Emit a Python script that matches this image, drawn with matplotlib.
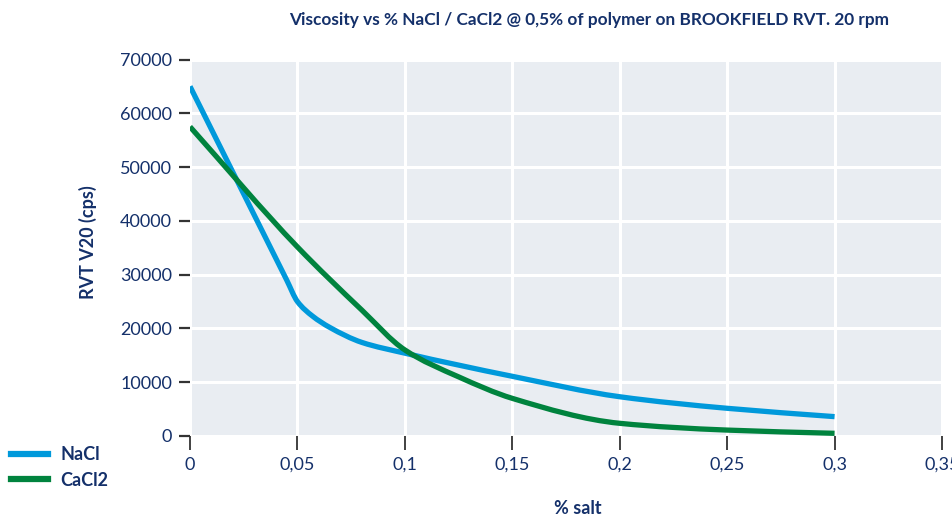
import numpy as np
import matplotlib
matplotlib.use("Agg")
import matplotlib.pyplot as plt
from matplotlib.path import Path
from matplotlib.patches import PathPatch
from matplotlib.lines import Line2D
from matplotlib.ticker import FuncFormatter

# ---- data ----
nacl_x = [0.0, 0.045, 0.05, 0.057, 0.065, 0.08, 0.1, 0.15, 0.2, 0.25, 0.3]
nacl_y = [65000, 29000, 25000, 22300, 20200, 17400, 15400, 11100, 7300, 5150, 3600]
cacl2_x = [0.0, 0.05, 0.08, 0.1, 0.125, 0.15, 0.2, 0.25, 0.3]
cacl2_y = [57500, 35150, 23400, 16000, 11000, 7000, 2360, 1100, 500]
series_names = ["NaCl", "CaCl2"]
x_ticks = [0, 0.05, 0.1, 0.15, 0.2, 0.25, 0.3, 0.35]
y_ticks = [0, 10000, 20000, 30000, 40000, 50000, 60000, 70000]

title = "Viscosity vs % NaCl / CaCl2 @ 0,5% of polymer on BROOKFIELD RVT. 20 rpm"
xlabel = "% salt"
ylabel = "RVT V20 (cps)"

NAVY = "#14306a"
BLUE = "#0099db"
GREEN = "#00833e"
BG = "#e9edf2"
FONT = ["Lato", "DejaVu Sans"]


def smooth_path(xs, ys):
    """Monotone cubic Bezier path through the data points (smoothed line)."""
    xs = np.asarray(xs, float)
    ys = np.asarray(ys, float)
    n = len(xs)
    h = np.diff(xs)
    d = np.diff(ys) / h
    m = np.zeros(n)
    m[0], m[-1] = d[0], d[-1]
    for i in range(1, n - 1):
        if d[i - 1] * d[i] <= 0:
            m[i] = 0.0
        else:
            w1 = 2 * h[i] + h[i - 1]
            w2 = h[i] + 2 * h[i - 1]
            m[i] = (w1 + w2) / (w1 / d[i - 1] + w2 / d[i])
    verts = [(xs[0], ys[0])]
    codes = [Path.MOVETO]
    for i in range(n - 1):
        hh = h[i]
        verts += [(xs[i] + hh / 3, ys[i] + m[i] * hh / 3),
                  (xs[i + 1] - hh / 3, ys[i + 1] - m[i + 1] * hh / 3),
                  (xs[i + 1], ys[i + 1])]
        codes += [Path.CURVE4] * 3
    return Path(verts, codes)


fig = plt.figure(figsize=(9.52, 5.17), dpi=100)
ax = fig.add_axes([190 / 952, 1 - 436 / 517, (942 - 190) / 952, (436 - 59.5) / 517])
ax.set_facecolor(BG)
ax.set_xlim(0, 0.35)
ax.set_ylim(0, 70000)

for s in ax.spines.values():
    s.set_visible(False)

ax.set_xticks(x_ticks)
ax.set_yticks(y_ticks)
ax.grid(True, color="white", linewidth=2.2)
ax.set_axisbelow(True)

ax.xaxis.set_major_formatter(FuncFormatter(lambda v, p: ("%g" % round(v, 2)).replace(".", ",")))
ax.yaxis.set_major_formatter(FuncFormatter(lambda v, p: "%d" % v))

ax.tick_params(axis="y", direction="out", length=8, width=1.6, color="#333333",
               labelsize=13, labelcolor=NAVY, pad=5)
ax.tick_params(axis="x", direction="out", length=10, width=1.3, color="#333333",
               labelsize=13, labelcolor=NAVY, pad=5)
for lab in ax.get_xticklabels() + ax.get_yticklabels():
    lab.set_family(FONT)

for xs, ys, col in [(nacl_x, nacl_y, BLUE), (cacl2_x, cacl2_y, GREEN)]:
    patch = PathPatch(smooth_path(xs, ys), facecolor="none", edgecolor=col,
                      linewidth=3.8, capstyle="butt", joinstyle="round", zorder=3)
    ax.add_patch(patch)

fig.text(589 / 952, 1 - 20 / 517, title, ha="center", va="center", fontsize=12.4,
         fontweight="bold", color=NAVY, family=FONT)
fig.text(578 / 952, 1 - 508 / 517, xlabel, ha="center", va="center", fontsize=13,
         fontweight="bold", color=NAVY, family=FONT)
fig.text(88 / 952, 1 - 242 / 517, ylabel, ha="center", va="center", fontsize=13,
         fontweight="bold", color=NAVY, family=FONT, rotation=90)

handles = [Line2D([], [], color=BLUE, linewidth=4.5),
           Line2D([], [], color=GREEN, linewidth=4.5)]
leg = fig.legend(handles, series_names, loc="upper left",
                 bbox_to_anchor=(6 / 952, 1 - 441 / 517), frameon=False,
                 handlelength=2.0, handletextpad=0.7, labelspacing=0.45,
                 borderaxespad=0, borderpad=0.3,
                 prop={"family": FONT, "weight": "bold", "size": 13})
for t in leg.get_texts():
    t.set_color(NAVY)

fig.savefig("out.png", dpi=100)
